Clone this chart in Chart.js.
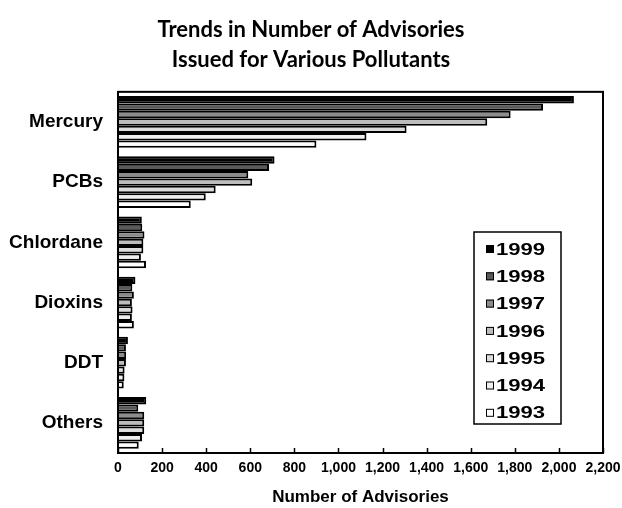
<!DOCTYPE html>
<html>
<head>
<meta charset="utf-8">
<script src="https://cdn.jsdelivr.net/npm/chart.js@4"></script>
<style>
  html, body { margin: 0; padding: 0; background: #fff; }
  #wrap { width: 622px; height: 508px; }
</style>
</head>
<body>
<div id="wrap"><canvas id="advChart" width="622" height="508"></canvas></div>
<script>
// categories and series
const pollutants = ['Mercury', 'PCBs', 'Chlordane', 'Dioxins', 'DDT', 'Others'];
const years = ['1999', '1998', '1997', '1996', '1995', '1994', '1993'];
const adv1999 = [2068, 710, 108, 79, 45, 128];
const adv1998 = [1928, 685, 110, 65, 36, 92];
const adv1997 = [1781, 591, 120, 72, 37, 119];
const adv1996 = [1675, 609, 115, 63, 36, 119];
const adv1995 = [1309, 443, 115, 66, 30, 119];
const adv1994 = [1127, 398, 104, 63, 29, 109];
const adv1993 = [900, 330, 127, 72, 26, 94];
const xTicks = [0, 200, 400, 600, 800, 1000, 1200, 1400, 1600, 1800, 2000, 2200];

const seriesValues = [adv1999, adv1998, adv1997, adv1996, adv1995, adv1994, adv1993];
const fills = ['#000000', '#5a5a5a', '#8c8c8c', '#bdbdbd', '#dcdcdc', '#efefef', '#ffffff'];

// box around the plot + inward ticks on the x axis
const frame = {
  id: 'frame',
  afterDatasetsDraw(chart) {
    const { ctx, chartArea: a, scales } = chart;
    ctx.save();
    ctx.strokeStyle = '#000';
    ctx.lineWidth = 2;
    ctx.strokeRect(a.left, a.top, a.right - a.left, a.bottom - a.top);
    ctx.lineWidth = 1.5;
    xTicks.forEach(v => {
      const x = Math.round(scales.x.getPixelForValue(v)) + 0.5;
      ctx.beginPath();
      ctx.moveTo(x, a.bottom);
      ctx.lineTo(x, a.bottom - 5);
      ctx.stroke();
    });
    ctx.restore();
  }
};

// legend box sitting inside the plot
const boxLegend = {
  id: 'boxLegend',
  afterDraw(chart) {
    const ctx = chart.ctx;
    const left = 474, top = 232, w = 87, h = 192;
    ctx.save();
    ctx.fillStyle = '#fff';
    ctx.fillRect(left, top, w, h);
    ctx.strokeStyle = '#000';
    ctx.lineWidth = 1.5;
    ctx.strokeRect(left, top, w, h);
    chart.data.datasets.forEach((ds, i) => {
      const cy = 249 + i * 27.3;
      ctx.fillStyle = ds.backgroundColor;
      ctx.fillRect(486, cy - 4, 8, 8);
      ctx.lineWidth = 1;
      ctx.strokeRect(486.5, cy - 3.5, 7, 7);
      ctx.fillStyle = '#000';
      ctx.font = 'bold 17px "Liberation Sans", Arial, sans-serif';
      ctx.textBaseline = 'middle';
      ctx.save();
      ctx.translate(496, cy + 1);
      ctx.scale(1.3, 1);
      ctx.fillText(ds.label, 0, 0);
      ctx.restore();
    });
    ctx.restore();
  }
};

new Chart(document.getElementById('advChart'), {
  type: 'bar',
  data: {
    labels: pollutants,
    datasets: years.map((y, i) => ({
      label: y,
      data: seriesValues[i],
      backgroundColor: fills[i],
      borderColor: '#000',
      borderWidth: 2,
      borderSkipped: 'start',
      categoryPercentage: 0.86,
      barPercentage: 1.0
    }))
  },
  options: {
    indexAxis: 'y',
    responsive: false,
    animation: false,
    devicePixelRatio: 1,
    layout: { padding: { left: 0, right: 0, top: 0, bottom: 0 } },
    plugins: {
      legend: { display: false },
      tooltip: { enabled: false },
      title: {
        display: true,
        text: ['Trends in Number of Advisories', 'Issued for Various Pollutants'],
        color: '#000',
        font: { family: 'Lato, "Open Sans", sans-serif', size: 22, weight: 'bold', lineHeight: 1.36 },
        padding: { top: 15, bottom: 17 }
      }
    },
    scales: {
      x: {
        min: 0,
        max: 2200,
        afterBuildTicks(scale) { scale.ticks = xTicks.map(v => ({ value: v })); },
        afterFit(scale) {
          scale.height = 55;
          scale.paddingLeft = 0;
          scale.paddingRight = 19;
        },
        grid: { display: false, drawTicks: false },
        border: { display: false },
        ticks: {
          color: '#000',
          padding: 7,
          maxRotation: 0,
          font: { family: '"Liberation Sans", Arial, sans-serif', size: 14, weight: 'bold' },
          callback: v => v.toLocaleString('en-US')
        },
        title: {
          display: true,
          text: 'Number of Advisories',
          color: '#000',
          font: { family: '"Liberation Sans", Arial, sans-serif', size: 17, weight: 'bold' },
          padding: { top: 6, bottom: 0 }
        }
      },
      y: {
        grid: { display: false, drawTicks: false },
        border: { display: false },
        afterFit(scale) { scale.width = 118; },
        ticks: {
          color: '#000',
          padding: 15,
          font: { family: '"Liberation Sans", Arial, sans-serif', size: 19, weight: 'bold' }
        }
      }
    }
  },
  plugins: [frame, boxLegend]
});
</script>
</body>
</html>
